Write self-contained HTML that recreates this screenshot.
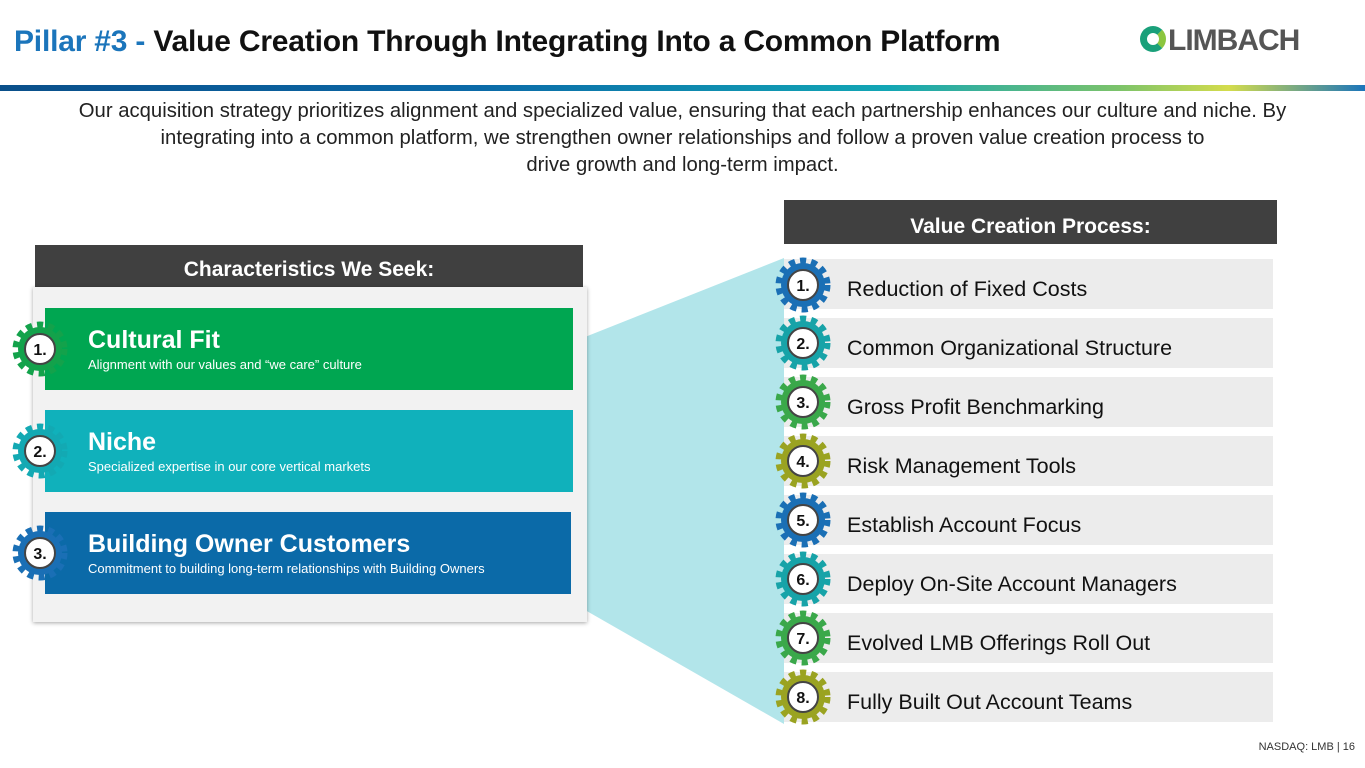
<!DOCTYPE html>
<html><head><meta charset="utf-8"><style>
*{margin:0;padding:0;box-sizing:border-box}
body{width:1365px;height:768px;position:relative;background:#fff;font-family:"Liberation Sans",Calibri,sans-serif;overflow:hidden}
.abs{position:absolute}
.title{left:14px;top:25px;font-size:30px;font-weight:bold;color:#111;letter-spacing:-0.2px;white-space:nowrap}
.title span{color:#1b75bb}
.bar{left:0;top:85px;width:1365px;height:6px;background:linear-gradient(90deg,#0a4f8a 0%,#0b6aa8 35%,#12a6b5 65%,#7cc36a 82%,#d4dc4c 90%,#1b75bb 100%)}
.intro{left:0;top:98px;width:1365px;text-align:center;font-size:20.3px;line-height:27px;color:#222;white-space:nowrap}
.hdr{background:#404040;color:#fff;font-weight:bold;font-size:21px;text-align:center}
.row{left:784px;width:489px;height:50px;background:#ececec;font-size:21.5px;color:#111;padding-left:63px;line-height:60px}
.lbox{left:45px;width:528px;height:82px;color:#fff;padding-left:43px}
.lbox b{display:block;font-size:25px;margin-top:18px}
.lbox i{font-style:normal;font-size:13px;display:block;margin-top:2px}
</style></head><body>
<div class="abs title"><span>Pillar #3 -</span> Value Creation Through Integrating Into a Common Platform</div>
<div class="abs" style="left:1140px;top:24px;font-size:30px;font-weight:bold;color:#555;letter-spacing:-1px">
<span style="display:inline-block;width:26px;height:26px;border:7px solid #1aa07a;border-radius:50%;vertical-align:-2px;margin-right:2px;border-right-color:#8cc63f"></span>LIMBACH</div>
<div class="abs bar"></div>
<div class="abs intro">Our acquisition strategy prioritizes alignment and specialized value, ensuring that each partnership enhances our culture and niche. By<br>integrating into a common platform, we strengthen owner relationships and follow a proven value creation process to<br>drive growth and long-term impact.</div>

<svg class="abs" style="left:0;top:0" width="1365" height="768"><polygon points="585,337 784,258 784,724 585,610" fill="#b2e5ea"/></svg>

<div class="abs hdr" style="left:35px;top:245px;width:548px;height:42px;line-height:50px">Characteristics We Seek:</div>
<div class="abs" style="left:33px;top:287px;width:554px;height:335px;background:#f2f2f2;box-shadow:0 1px 4px rgba(0,0,0,.35)"></div>
<div class="abs lbox" style="top:308px;background:#00a651"><b>Cultural Fit</b><i>Alignment with our values and “we care” culture</i></div>
<div class="abs lbox" style="top:410px;background:#10b1bb"><b>Niche</b><i>Specialized expertise in our core vertical markets</i></div>
<div class="abs lbox" style="top:512px;background:#0b6aa8;width:526px"><b>Building Owner Customers</b><i>Commitment to building long-term relationships with Building Owners</i></div>

<div class="abs hdr" style="left:784px;top:200px;width:493px;height:44px;line-height:54px">Value Creation Process:</div>
<div class="abs row" style="top:259px">Reduction of Fixed Costs</div>
<div class="abs row" style="top:318px">Common Organizational Structure</div>
<div class="abs row" style="top:377px">Gross Profit Benchmarking</div>
<div class="abs row" style="top:436px">Risk Management Tools</div>
<div class="abs row" style="top:495px">Establish Account Focus</div>
<div class="abs row" style="top:554px">Deploy On-Site Account Managers</div>
<div class="abs row" style="top:613px">Evolved LMB Offerings Roll Out</div>
<div class="abs row" style="top:672px">Fully Built Out Account Teams</div>

<svg class="abs" style="left:0;top:0" width="1365" height="768" font-family="Liberation Sans, sans-serif">
<defs><g id="g">
<circle r="24" fill="none" stroke="currentColor" stroke-width="7" stroke-dasharray="6 5"/>
<circle r="22" fill="currentColor"/>
<circle r="15" fill="#fff" stroke="#444" stroke-width="2"/>
</g></defs>
<g font-size="16" font-weight="bold" text-anchor="middle" fill="#111">
<use href="#g" x="40" y="349" style="color:#13a24b"/><text x="40" y="355">1.</text>
<use href="#g" x="40" y="451" style="color:#13a9b3"/><text x="40" y="457">2.</text>
<use href="#g" x="40" y="553" style="color:#1a6fb5"/><text x="40" y="559">3.</text>
<use href="#g" x="803" y="285" style="color:#1a6fb5"/><text x="803" y="291">1.</text>
<use href="#g" x="803" y="343" style="color:#17a3a8"/><text x="803" y="349">2.</text>
<use href="#g" x="803" y="402" style="color:#3aa84a"/><text x="803" y="408">3.</text>
<use href="#g" x="803" y="461" style="color:#9aa321"/><text x="803" y="467">4.</text>
<use href="#g" x="803" y="520" style="color:#1a6fb5"/><text x="803" y="526">5.</text>
<use href="#g" x="803" y="579" style="color:#17a3a8"/><text x="803" y="585">6.</text>
<use href="#g" x="803" y="638" style="color:#3aa84a"/><text x="803" y="644">7.</text>
<use href="#g" x="803" y="697" style="color:#9aa321"/><text x="803" y="703">8.</text>
</g></svg>
<div class="abs" style="right:10px;top:741px;font-size:11px;color:#333">NASDAQ: LMB | 16</div>
</body></html>
